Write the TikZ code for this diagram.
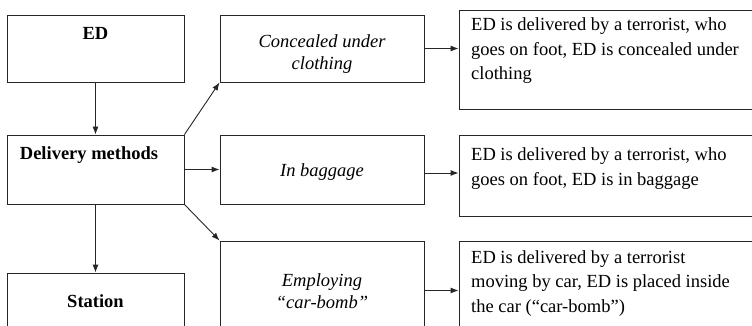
\documentclass[tikz,border=0pt]{standalone}
\usepackage{fontspec}
\setmainfont{Liberation Serif}
\usetikzlibrary{arrows.meta}
\begin{document}
\begin{tikzpicture}[x=1pt,y=-1pt,
  box/.style={draw=black!85, line width=0.9pt, inner sep=0pt, rectangle},
  arr/.style={draw=black!85, line width=0.9pt, -{Latex[length=8pt,width=6pt]}},
  txt/.style={inner sep=0pt, font=\fontsize{18.5}{24.5}\selectfont},
  bt/.style={txt, font=\fontsize{18.5}{24.5}\selectfont\bfseries},
  it/.style={txt, font=\fontsize{18.5}{22}\selectfont\itshape}]
\useasboundingbox (0,0) rectangle (752,326);
\clip (0,0) rectangle (752,326);
% left column
\node[box, minimum width=177pt, minimum height=67pt] (ed) at (95.5,48.5) {};
\node[box, minimum width=177pt, minimum height=69pt] (dm) at (95.5,169.5) {};
\node[box, minimum width=177pt, minimum height=67pt] (st) at (95.5,306.5) {};
% middle column
\node[box, minimum width=204pt, minimum height=67pt] (cc) at (322,48.5) {};
\node[box, minimum width=204pt, minimum height=69pt] (bg) at (322,169.5) {};
\node[box, minimum width=204pt, minimum height=99pt] (cb) at (322,290.5) {};
% right column
\node[box, minimum width=341pt, minimum height=99pt] (r1) at (629.5,59.5) {};
\node[box, minimum width=341pt, minimum height=81pt] (r2) at (629.5,175.5) {};
\node[box, minimum width=341pt, minimum height=99pt] (r3) at (629.5,290.5) {};
% texts (base = baseline of last line)
\node[bt, anchor=base] (t1) at (95.5,40) {ED};
\node[bt, anchor=base] (t2) at (89,160) {Delivery methods};
\node[bt, anchor=base] (t3) at (95.5,307) {Station};
\node[it, anchor=base, align=center] (t4) at (322,70) {Concealed under\\clothing};
\node[it, anchor=base] (t5) at (322,176) {In baggage};
\node[it, anchor=base, align=center] (t6) at (322,308) {Employing\\“car-bomb”};
\node[txt, anchor=base west, align=left] (t7) at (471,80) {ED is delivered by a terrorist, who\\goes on foot, ED is concealed under\\clothing};
\node[txt, anchor=base west, align=left] (t8) at (471,185) {ED is delivered by a terrorist, who\\goes on foot, ED is in baggage};
\node[txt, anchor=base west, align=left] (t9) at (471,312) {ED is delivered by a terrorist\\moving by car, ED is placed inside\\the car (“car-bomb”)};
% connectors
\draw[arr] (ed.south) -- (dm.north);
\draw[arr] (dm.south) -- (st.north);
\draw[arr] (dm.north east) -- (cc.south west);
\draw[arr] (dm.east) -- (bg.west);
\draw[arr] (dm.south east) -- (cb.north west);
\draw[arr] (cc.east) -- (cc.east -| r1.west);
\draw[arr] ([yshift=-3.5pt]bg.east) -- ([yshift=-3.5pt]bg.east -| r2.west);
\draw[arr] (cb.east) -- (r3.west);
\end{tikzpicture}
\end{document}
